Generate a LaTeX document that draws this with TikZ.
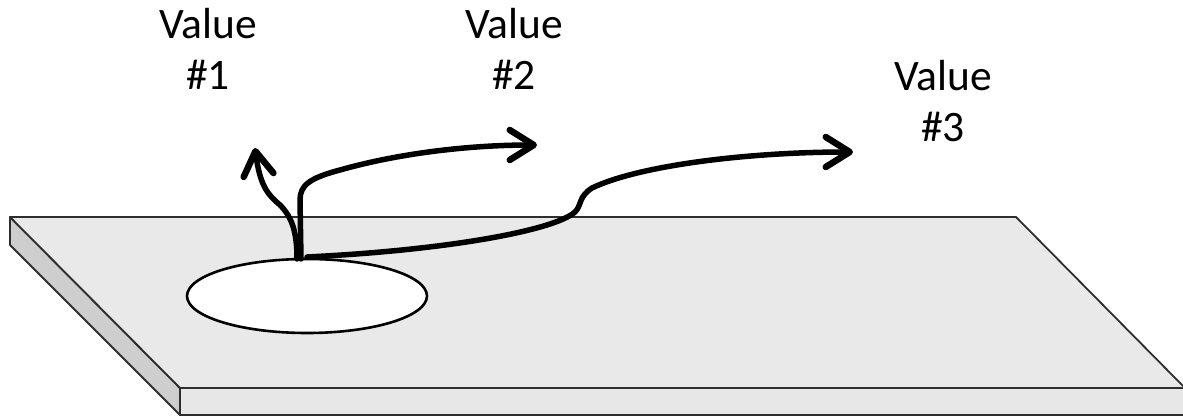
\documentclass[tikz,border=0pt]{standalone}
\usepackage{fontspec}
\setmainfont{Carlito}
\usetikzlibrary{shapes.geometric,arrows.meta}
\definecolor{topface}{HTML}{E9E9E9}
\definecolor{sideface}{HTML}{CECECE}
\definecolor{frontface}{HTML}{E7E7E7}
\definecolor{edgegray}{HTML}{2E2E2E}
\begin{document}
\begin{tikzpicture}[x=1pt,y=-1pt,
  slabedge/.style={draw=edgegray, line width=1.8pt, line join=round},
  flowline/.style={line width=5.5pt, line cap=round, line join=round,
    -{Straight Barb[length=24pt,width=30pt,line width=6.5pt,round]}},
  vlabel/.style={font=\fontsize{43.5}{51}\selectfont, align=center, inner sep=0pt, anchor=base}]
\useasboundingbox (0,0) rectangle (1183,419);
\fill[white] (0,0) rectangle (1183,419);
% slab
\coordinate (A) at (10,217);
\coordinate (B) at (1016,217);
\coordinate (C) at (1185,388);
\coordinate (D) at (180,388);
\coordinate (Cb) at (1185,415);
\coordinate (Db) at (180,415);
\coordinate (Ab) at (10,245);
\path[slabedge, fill=sideface] (A) -- (D) -- (Db) -- (Ab) -- cycle;
\path[slabedge, fill=frontface] (D) -- (C) -- (Cb) -- (Db) -- cycle;
\path[slabedge, fill=topface] (A) -- (B) -- (C) -- (D) -- cycle;
% hole
\node[ellipse, draw=black, line width=2.6pt, fill=white, minimum width=240pt, minimum height=74pt, inner sep=0pt] (hole) at (307,296) {};
\coordinate (s1) at (297,259);
\coordinate (s2) at (301,259);
\coordinate (s3) at (307,257);
\coordinate (t1) at (255,148);
\coordinate (t2) at (537,145);
\coordinate (t3) at (853,152);
% labels
\node[vlabel] (v1) at (208,90) {Value\\\#1};
\node[vlabel] (v2) at (514,90) {Value\\\#2};
\node[vlabel] (v3) at (943,142) {Value\\\#3};
% flows
\draw[flowline] (s1) .. controls (297,232) and (292,217) .. (280,205)
  .. controls (268,195) and (260,186) .. (t1);
\draw[flowline] (s2) -- (300,200) .. controls (300,185) and (310,178) .. (340,170)
  .. controls (400,153) and (470,145) .. (t2);
\draw[flowline] (s3) .. controls (450,250) and (555,230) .. (575,212)
  .. controls (582,205) and (578,197) .. (592,188)
  .. controls (640,165) and (750,152) .. (t3);
\end{tikzpicture}
\end{document}
